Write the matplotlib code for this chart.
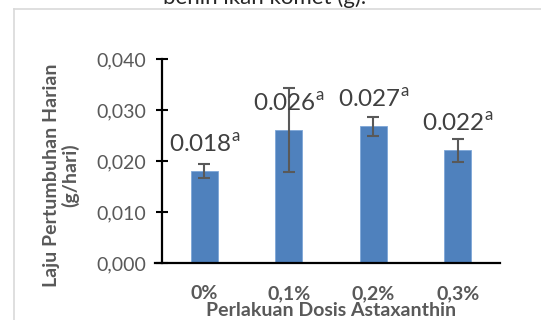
import matplotlib
matplotlib.use("Agg")
import matplotlib.pyplot as plt
from matplotlib.lines import Line2D

plt.rcParams['font.family'] = ['Lato', 'DejaVu Sans']
plt.rcParams['mathtext.fontset'] = 'custom'
plt.rcParams['mathtext.rm'] = 'Lato'

categories = ["0%", "0,1%", "0,2%", "0,3%"]
values = [0.018, 0.026, 0.027, 0.022]
errors = [0.0014, 0.0083, 0.0019, 0.0022]
bar_heights = [0.0180, 0.0261, 0.0268, 0.0221]
letters = ["a", "a", "a", "a"]
yticks = [0.0, 0.01, 0.02, 0.03, 0.04]
ytick_labels = ["0,000", "0,010", "0,020", "0,030", "0,040"]

W, H = 541, 320
fig = plt.figure(figsize=(W / 100, H / 100), dpi=100)
ax = fig.add_axes([162 / W, 1 - 263 / H, (500 - 162) / W, (263 - 59) / H])

x = list(range(len(categories)))
ax.bar(x, bar_heights, width=0.32, color="#4F81BD", edgecolor="#7EA6D8", linewidth=0.6, zorder=2)
ax.errorbar(x, bar_heights, yerr=errors, fmt="none", ecolor="#595959",
            elinewidth=1.5, capsize=4.5, capthick=1.5, zorder=3)

for xi, h, v, l in zip(x, bar_heights, values, letters):
    ax.annotate(f"{v:.3f}" + r"$^{\mathrm{" + l + "}}$", (xi, h), xytext=(0, 13.5),
                textcoords="offset points", ha="center", va="baseline",
                fontsize=17.5, color="#404040", zorder=4)

ax.set_xlim(-0.5, 3.5)
ax.set_ylim(0, 0.04)
ax.set_yticks(yticks)
ax.set_yticklabels(ytick_labels)
ax.set_xticks(x)
ax.set_xticklabels(categories, fontweight="bold")
ax.tick_params(axis="y", direction="inout", length=9, width=1.5, labelsize=14,
               labelcolor="#595959", pad=7)
ax.tick_params(axis="x", length=0, labelsize=14, labelcolor="#595959", pad=16)

for s in ["top", "right"]:
    ax.spines[s].set_visible(False)
for s in ["left", "bottom"]:
    ax.spines[s].set_linewidth(1.6)
    ax.spines[s].set_color("black")
ax.spines["bottom"].set_bounds(-0.5 - 7 / 84.5, 3.5)

fig.text(61 / W, 1 - 175 / H, "Laju Pertumbuhan Harian\n(g/hari)", rotation=90,
         ha="center", va="center", multialignment="center", linespacing=1.1,
         fontsize=14, fontweight="bold", color="#595959")
fig.text(331 / W, 1 - 310 / H, "Perlakuan Dosis Astaxanthin", ha="center", va="center",
         fontsize=14, fontweight="bold", color="#595959")

fig.text(265 / W, 1 - 4 / H, "benih ikan komet (g).", ha="center", va="baseline",
         fontsize=16, color="#262626")

fig.add_artist(Line2D([14 / W, 14 / W], [0, 1 - 9 / H], transform=fig.transFigure,
                      color="#D9D9D9", linewidth=1.2))
fig.add_artist(Line2D([14 / W, 1], [1 - 9 / H, 1 - 9 / H], transform=fig.transFigure,
                      color="#D9D9D9", linewidth=1.2))

fig.savefig("out.png", dpi=100)
